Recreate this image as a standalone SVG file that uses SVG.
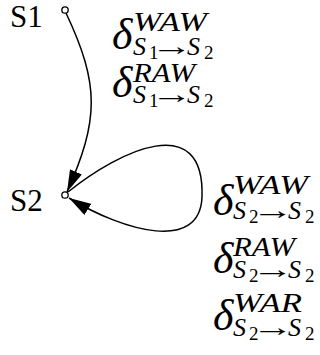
<svg xmlns="http://www.w3.org/2000/svg" width="320" height="355" viewBox="0 0 320 355">
<defs>
<style>
text{fill:#000;font-family:'Liberation Serif','Times New Roman',serif}
.node{font-size:31px}
.d{font-size:44px;font-style:italic}
.sup{font-size:28px;font-style:italic}
.subS{font-size:26px;font-style:italic}
.dig{font-size:19px;font-style:normal}
.arr{font-size:26px;font-style:normal}
.edge{fill:none;stroke:#000;stroke-width:1.5}
.dot{fill:#fff;stroke:#000;stroke-width:1.3}
</style>
<marker id="ah" markerUnits="userSpaceOnUse" viewBox="0 0 22 13" refX="22" refY="6.5" markerWidth="22" markerHeight="13" orient="auto">
<path d="M0,0 L22,6.5 L0,13 z" fill="#000"/>
</marker>
</defs>
<rect width="320" height="355" fill="#fff"/>
<g id="connectors">
<path class="edge" d="M66 13 C100 85 99 120 67 192" marker-end="url(#ah)"/>
<path class="edge" d="M68 192 C120 150 205 110 202 197 C200 252 125 232 69 198" marker-end="url(#ah)"/>
</g>
<g id="S1">
<circle class="dot" cx="65" cy="10" r="3.2"/>
<text class="node" x="10" y="27">S1</text>
</g>
<g id="S2">
<circle class="dot" cx="65" cy="195" r="3.2"/>
<text class="node" x="10" y="211">S2</text>
</g>
<g id="labels">
<g id="l1"><text class="d" x="112" y="49">δ</text><text class="sup" x="133" y="31" textLength="74" lengthAdjust="spacingAndGlyphs">WAW</text><text x="133" y="55"><tspan class="subS">S</tspan><tspan class="dig" x="149" y="59">1</tspan><tspan class="arr" x="151" y="55" textLength="42" lengthAdjust="spacingAndGlyphs">→</tspan><tspan class="subS" x="187" y="55">S</tspan><tspan class="dig" x="204" y="59">2</tspan></text></g>
<g id="l2"><text class="d" x="112" y="97">δ</text><text class="sup" x="133" y="82" textLength="62" lengthAdjust="spacingAndGlyphs">RAW</text><text x="133" y="103"><tspan class="subS">S</tspan><tspan class="dig" x="149" y="107">1</tspan><tspan class="arr" x="151" y="103" textLength="42" lengthAdjust="spacingAndGlyphs">→</tspan><tspan class="subS" x="187" y="103">S</tspan><tspan class="dig" x="204" y="107">2</tspan></text></g>
<g id="l3"><text class="d" x="213" y="215">δ</text><text class="sup" x="233" y="194" textLength="75" lengthAdjust="spacingAndGlyphs">WAW</text><text x="233" y="219"><tspan class="subS">S</tspan><tspan class="dig" x="249" y="223">2</tspan><tspan class="arr" x="252" y="219" textLength="42" lengthAdjust="spacingAndGlyphs">→</tspan><tspan class="subS" x="288" y="219">S</tspan><tspan class="dig" x="305" y="223">2</tspan></text></g>
<g id="l4"><text class="d" x="213" y="273">δ</text><text class="sup" x="233" y="256" textLength="62" lengthAdjust="spacingAndGlyphs">RAW</text><text x="233" y="278"><tspan class="subS">S</tspan><tspan class="dig" x="249" y="282">2</tspan><tspan class="arr" x="252" y="278" textLength="42" lengthAdjust="spacingAndGlyphs">→</tspan><tspan class="subS" x="288" y="278">S</tspan><tspan class="dig" x="305" y="282">2</tspan></text></g>
<g id="l5"><text class="d" x="213" y="330">δ</text><text class="sup" x="233" y="312" textLength="69" lengthAdjust="spacingAndGlyphs">WAR</text><text x="233" y="336"><tspan class="subS">S</tspan><tspan class="dig" x="249" y="340">2</tspan><tspan class="arr" x="252" y="336" textLength="42" lengthAdjust="spacingAndGlyphs">→</tspan><tspan class="subS" x="288" y="336">S</tspan><tspan class="dig" x="305" y="340">2</tspan></text></g>
</g>
</svg>
